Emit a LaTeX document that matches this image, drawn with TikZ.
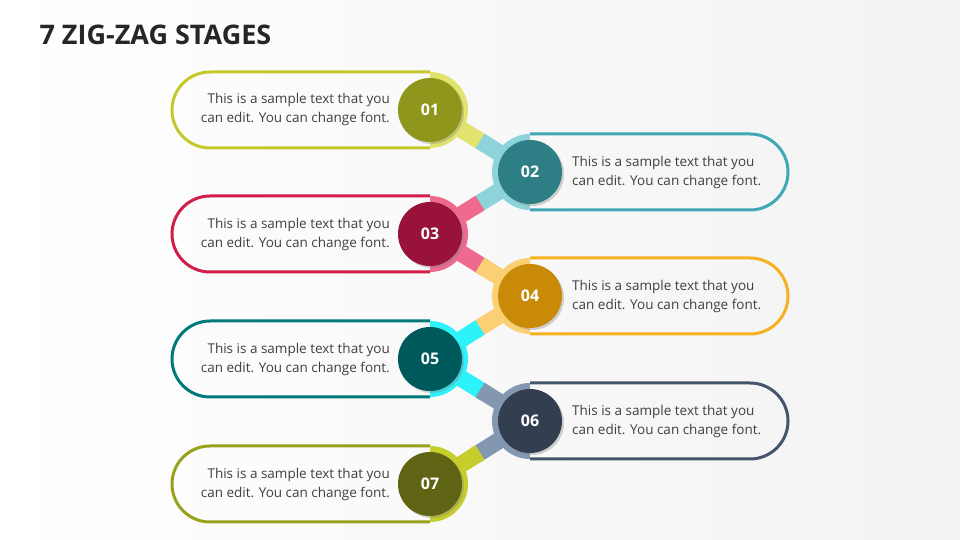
\documentclass[tikz,border=0pt]{standalone}
\usepackage{fontspec}
\setmainfont{Open Sans}
\usetikzlibrary{shadows, calc}
\definecolor{textGray}{HTML}{404040}
\definecolor{lineA}{HTML}{C5C82A}\definecolor{capA}{HTML}{E2E36F}\definecolor{darkA}{HTML}{8E961C}
\definecolor{lineB}{HTML}{3EA8B4}\definecolor{capB}{HTML}{8DD3D9}\definecolor{darkB}{HTML}{2E7F85}
\definecolor{lineC}{HTML}{D21C4A}\definecolor{capC}{HTML}{EE6B8F}\definecolor{darkC}{HTML}{981239}
\definecolor{lineD}{HTML}{F5B120}\definecolor{capD}{HTML}{FBCF73}\definecolor{darkD}{HTML}{C88A07}
\definecolor{lineE}{HTML}{00797A}\definecolor{capE}{HTML}{2EF2FA}\definecolor{darkE}{HTML}{005A5C}
\definecolor{lineF}{HTML}{44546A}\definecolor{capF}{HTML}{8497B0}\definecolor{darkF}{HTML}{333F50}
\definecolor{lineG}{HTML}{98A11C}\definecolor{capG}{HTML}{C5CE2C}\definecolor{darkG}{HTML}{5E6414}
\tikzstyle{pill}=[line width=3pt]
\tikzstyle{numCircle}=[circle, minimum size=64pt, inner sep=0pt, text=white,
  font=\bfseries\fontsize{16}{16}\selectfont, drop shadow={opacity=0.35, shadow xshift=2pt, shadow yshift=-2pt}]
\tikzstyle{stageText}=[text=textGray, font=\fontsize{13.5}{19}\selectfont, inner sep=0pt]
\tikzstyle{link}=[line width=17pt]
\newcommand{\sample}{This is a sample text that you\\can edit. You can change font.}
\begin{document}
\begin{tikzpicture}[x=1pt, y=1pt]
  \useasboundingbox (0,0) rectangle (960,540);
  \shade[left color=white, right color=black!5] (0,0) rectangle (960,540);
  \node[anchor=west, text=black!85, font=\bfseries\fontsize{27}{27}\selectfont] (title) at (36,505) {7 ZIG-ZAG STAGES};
  % connector bands
  \foreach \i/\xa/\ya/\ca/\xb/\yb/\cb in {1/430/430/capA/530/368/capB, 2/530/368/capB/430/306/capC,
      3/430/306/capC/530/244/capD, 4/530/244/capD/430/181/capE, 5/430/181/capE/530/119/capF,
      6/530/119/capF/430/56/capG} {
    \coordinate (a\i) at (\xa,\ya);
    \coordinate (b\i) at (\xb,\yb);
    \draw[link, \ca] (a\i) -- ($(a\i)!0.55!(b\i)$);
    \draw[link, \cb] ($(a\i)!0.5!(b\i)$) -- (b\i);
  }
  % stages
  \foreach \i/\y/\side/\c in {1/430/L/A, 2/368/R/B, 3/306/L/C, 4/244/R/D, 5/181/L/E, 6/119/R/F, 7/56/L/G} {
    \if\side L
      \draw[pill, line\c] (430,\y+38) -- (210,\y+38) arc[start angle=90, end angle=270, radius=38] -- (430,\y-38);
      \fill[cap\c] (430,\y+38) arc[start angle=90, end angle=-90, radius=38] -- cycle;
      \node[numCircle, fill=dark\c] (s\i) at (430,\y) {0\i};
      \node[stageText, align=right, anchor=east] (t\i) at (390,\y) {\sample};
    \else
      \draw[pill, line\c] (530,\y+38) -- (750,\y+38) arc[start angle=90, end angle=-90, radius=38] -- (530,\y-38);
      \fill[cap\c] (530,\y+38) arc[start angle=90, end angle=270, radius=38] -- cycle;
      \node[numCircle, fill=dark\c] (s\i) at (530,\y) {0\i};
      \node[stageText, align=left, anchor=west] (t\i) at (572,\y) {\sample};
    \fi
  }
\end{tikzpicture}
\end{document}
